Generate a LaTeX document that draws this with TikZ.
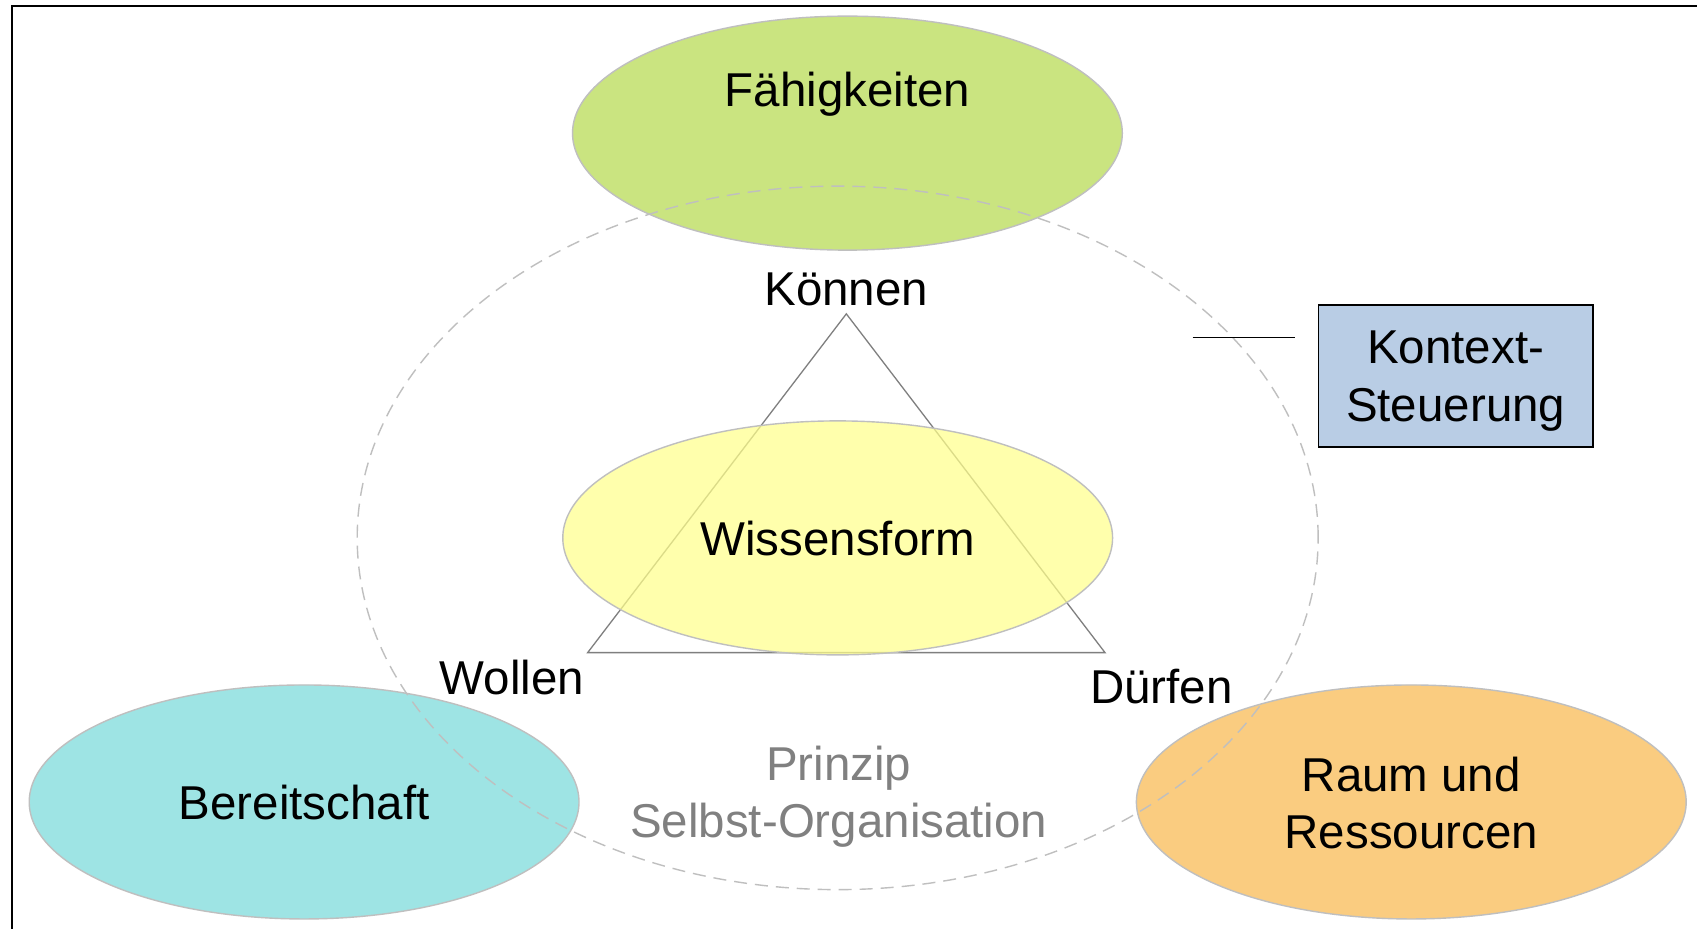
\documentclass[tikz,border=0pt]{standalone}
\usepackage{fontspec}
\setmainfont{Liberation Sans}
\usetikzlibrary{shapes.geometric}
\definecolor{gborder}{RGB}{191,191,191}
\definecolor{tri}{RGB}{127,127,127}
\definecolor{fgreen}{RGB}{202,228,128}
\definecolor{fcyan}{RGB}{158,228,228}
\definecolor{forange}{RGB}{250,204,128}
\definecolor{fyellow}{RGB}{255,255,140}
\definecolor{fblue}{RGB}{185,205,229}
\definecolor{prinz}{RGB}{128,128,128}
\begin{document}
\begin{tikzpicture}[x=1.0823pt,y=-1.0823pt,
  blob/.style={ellipse,draw=gborder,line width=1.4pt,inner sep=0pt,
    minimum width=549.8pt,minimum height=234pt},
  lbl/.style={inner sep=0pt,anchor=base,font=\fontsize{47.5}{57}\selectfont},
  frameline/.style={line width=2.2pt,black},
  dashring/.style={draw=gborder,line width=1.4pt,dash pattern=on 13pt off 8pt},
  kbox/.style={rectangle,draw=black,line width=1.4pt,fill=fblue,inner sep=0pt,
    minimum width=274.9pt,minimum height=141.8pt}]
\useasboundingbox (0,0) rectangle (1568,858);
\fill[white] (0,0) rectangle (1568,858);
% frame
\coordinate (fr1) at (1568,5.5);
\coordinate (fr2) at (11,5.5);
\coordinate (fr3) at (11,858);
\draw[frameline] (fr1) -- (fr2) -- (fr3);
% triangle corners
\coordinate (tA) at (782,290);
\coordinate (tB) at (543,603);
\coordinate (tC) at (1021,603);
\draw[tri,line width=1.3pt,line join=miter] (tA) -- (tB) -- (tC) -- cycle;
% filled ellipses
\node[blob,fill=fgreen] (faeh) at (783,123) {};
\node[blob,fill=fcyan] (bereit) at (281,741) {};
\node[blob,fill=forange] (raum) at (1304,741) {};
\node[blob,fill=fyellow,fill opacity=0.72] (wissen) at (774,497) {};
% dashed ring
\node[ellipse,dashring,inner sep=0pt,minimum width=961pt,minimum height=703.5pt] (ring) at (774,497) {};
% labels
\node[lbl] (tfaeh) at (783,98) {Fähigkeiten};
\node[lbl] (tkoennen) at (782,282) {Können};
\node[lbl] (twissen) at (774,513) {Wissensform};
\node[lbl] (twollen) at (473,642) {Wollen};
\node[lbl] (tduerfen) at (1073,650) {Dürfen};
\node[lbl] (tbereit) at (281,757) {Bereitschaft};
\node[lbl] (traum1) at (1304,731) {Raum und};
\node[lbl] (traum2) at (1304,784) {Ressourcen};
\node[lbl,text=prinz] (tprinz1) at (775,721) {Prinzip};
\node[lbl,text=prinz] (tprinz2) at (775,774) {Selbst-Organisation};
% Kontext box
\node[kbox] (kontext) at (1345,347.5) {};
\node[lbl] (tkont1) at (1345,336) {Kontext-};
\node[lbl] (tkont2) at (1345,389) {Steuerung};
\coordinate (k1) at (1102,312);
\coordinate (k2) at (1197,312);
\draw[black,line width=1.4pt] (k1) -- (k2);
\end{tikzpicture}
\end{document}
